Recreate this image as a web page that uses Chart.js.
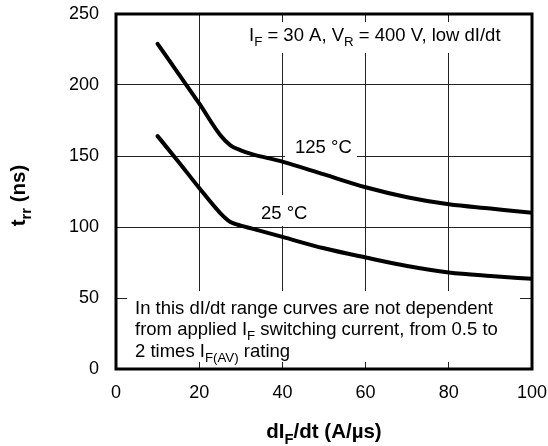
<!DOCTYPE html>
<html>
<head>
<meta charset="utf-8">
<script src="https://cdn.jsdelivr.net/npm/chart.js@4/dist/chart.umd.min.js"></script>
<style>
  html, body { margin: 0; padding: 0; background: #fff; }
  #wrap { width: 548px; height: 446px; }
</style>
</head>
<body>
<div id="wrap"><canvas id="trr"></canvas></div>
<script>
// dIF/dt (A/us)
const dIdt = [10, 15, 20, 25, 27.5, 30, 32.5, 40, 50, 60, 70, 80, 90, 100];
// trr (ns) at 125 °C
const trr125 = [229, 208, 187, 165, 157.5, 154, 151.5, 146, 137, 128, 121, 116, 113, 110];
// trr (ns) at 25 °C
const trr25 = [164, 146, 127.5, 110, 103.5, 101, 99, 93, 85, 78.5, 72.5, 68, 65.5, 63.5];
const xStep = 20, xMax = 100;
const yStep = 50, yMax = 250;

const FONT = "'Liberation Sans', Arial, Helvetica, sans-serif";

function toPoints(xs, ys) {
    return xs.map((x, i) => ({ x: x, y: ys[i] }));
}

// draw a line of text made of pieces, some of them subscripts
function drawRuns(ctx, parts, x, y, size, bold, align) {
    const w = bold ? 'bold ' : '';
    let total = 0;
    const widths = parts.map(p => {
        ctx.font = w + (p[1] ? size * 0.72 : size) + 'px ' + FONT;
        const m = ctx.measureText(p[0]).width;
        total += m;
        return m;
    });
    let cx = align === 'center' ? x - total / 2 : x;
    ctx.textAlign = 'left';
    ctx.textBaseline = 'alphabetic';
    parts.forEach((p, i) => {
        ctx.font = w + (p[1] ? size * 0.72 : size) + 'px ' + FONT;
        ctx.fillText(p[0], cx, p[1] ? y + size * 0.28 : y);
        cx += widths[i];
    });
}

const decor = {
    id: 'decor',
    beforeDatasetsDraw(chart) {
        const ctx = chart.ctx;
        ctx.save();
        ctx.fillStyle = '#fff';
        ctx.fillRect(246, 22, 264, 31);
        ctx.fillRect(285, 135, 72, 24);
        ctx.fillRect(255, 195, 57, 31);
        ctx.fillRect(127, 291, 393, 71);
        ctx.fillStyle = '#000';
        drawRuns(ctx, [['I', 0], ['F', 1], [' = 30 A, V', 0], ['R', 1], [' = 400 V, low dI/dt', 0]], 249, 41, 18.5, false, 'left');
        drawRuns(ctx, [['125 °C', 0]], 295, 153, 18.5, false, 'left');
        drawRuns(ctx, [['25 °C', 0]], 261, 219, 18.5, false, 'left');
        drawRuns(ctx, [['In this dI/dt range curves are not dependent', 0]], 135, 314, 18.5, false, 'left');
        drawRuns(ctx, [['from applied I', 0], ['F', 1], [' switching current, from 0.5 to', 0]], 135, 335, 18.5, false, 'left');
        drawRuns(ctx, [['2 times I', 0], ['F(AV)', 1], [' rating', 0]], 135, 357, 18.5, false, 'left');
        ctx.restore();
    },
    afterDatasetsDraw(chart) {
        const ctx = chart.ctx;
        const a = chart.chartArea;
        ctx.save();
        ctx.strokeStyle = '#000';
        ctx.lineWidth = 3;
        ctx.strokeRect(a.left, a.top, a.right - a.left, a.bottom - a.top);
        ctx.fillStyle = '#000';
        drawRuns(ctx, [['dI', 0], ['F', 1], ['/dt (A/µs)', 0]], (a.left + a.right) / 2, 438, 20.5, true, 'center');
        ctx.translate(25, (a.top + a.bottom) / 2 + 4);
        ctx.rotate(-Math.PI / 2);
        drawRuns(ctx, [['t', 0], ['rr', 1], [' (ns)', 0]], 0, 0, 20.5, true, 'center');
        ctx.restore();
    }
};

new Chart(document.getElementById('trr'), {
    type: 'line',
    data: {
        datasets: [
            { label: '125 °C', data: toPoints(dIdt, trr125) },
            { label: '25 °C', data: toPoints(dIdt, trr25) }
        ]
    },
    options: {
        responsive: true,
        maintainAspectRatio: false,
        animation: false,
        devicePixelRatio: 1,
        layout: { padding: { top: 14, right: 16, left: 0, bottom: 0 } },
        elements: {
            line: { borderColor: '#000', borderWidth: 4, fill: false, cubicInterpolationMode: 'monotone', borderCapStyle: 'round' },
            point: { radius: 0 }
        },
        plugins: { legend: { display: false }, tooltip: { enabled: false } },
        scales: {
            x: {
                type: 'linear', min: 0, max: xMax,
                ticks: { stepSize: xStep, color: '#000', padding: 13, font: { family: FONT, size: 18 } },
                grid: { color: '#222', lineWidth: 1, drawTicks: false },
                border: { display: false },
                afterFit(scale) {
                    scale.height = 77;
                    scale.paddingLeft = 0;
                    scale.paddingRight = 0;
                }
            },
            y: {
                min: 0, max: yMax,
                ticks: { stepSize: yStep, color: '#000', padding: 17, font: { family: FONT, size: 18 } },
                grid: { color: '#222', lineWidth: 1, drawTicks: false },
                border: { display: false },
                afterFit(scale) {
                    scale.width = 116;
                    scale.paddingTop = 0;
                    scale.paddingBottom = 0;
                }
            }
        }
    },
    plugins: [decor]
});
</script>
</body>
</html>
